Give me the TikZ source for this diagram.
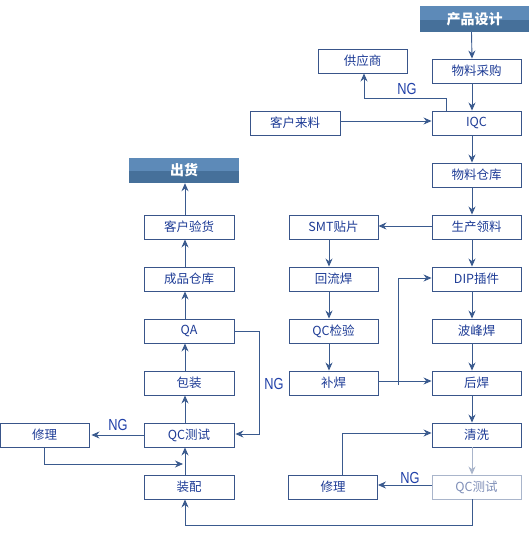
\documentclass[tikz,border=0pt]{standalone}
\usepackage{fontspec}
\newfontfamily\cjk{Noto Sans CJK SC}
\newfontfamily\ngfont[FakeStretch=0.8]{Liberation Sans}
\usetikzlibrary{arrows.meta,calc}
\definecolor{bordc}{HTML}{39558A}
\definecolor{txtc}{HTML}{1E3C96}
\definecolor{linec}{HTML}{3A5A8E}
\definecolor{ngc}{HTML}{2040A8}
\definecolor{hdtop}{HTML}{5D8AB8}
\definecolor{hdbot}{HTML}{46709A}
\definecolor{fadeb}{HTML}{A9B5CB}
\definecolor{fadet}{HTML}{7F8FB8}
\tikzset{
  box/.style={draw=bordc, line width=0.9pt, fill=white, minimum width=89pt, minimum height=24pt, inner sep=0pt, text=txtc, font=\cjk\fontsize{12.5}{14}\selectfont},
  fadebox/.style={box, draw=fadeb, text=fadet},
  hdr/.style={minimum height=26pt, inner sep=0pt, text=white, font=\cjk\bfseries\fontsize{14}{16}\selectfont},
  arr/.style={draw=linec, line width=0.9pt, -{Stealth[length=8pt,width=7pt]}},
  ln/.style={draw=linec, line width=0.9pt},
  ngl/.style={text=ngc, font=\ngfont\fontsize{16}{17}\selectfont, inner sep=0pt}
}
\begin{document}
\begin{tikzpicture}[x=1pt,y=-1pt]
\useasboundingbox (0,0) rectangle (532,539);
\fill[white] (0,0) rectangle (532,539);
% headers
\fill[hdtop] (420,6) rectangle (529,20);
\fill[hdbot] (420,20) rectangle (529,32);
\node[hdr, minimum width=109pt] (design) at (474.5,19) {产品设计};
\fill[hdtop] (129,158) rectangle (239,171);
\fill[hdbot] (129,171) rectangle (239,183);
\node[hdr, minimum width=110pt, minimum height=25pt] (ship) at (184,170.5) {出货};
% right column
\node[box] (buy) at (476.5,71) {物料采购};
\node[box] (iqc) at (476.5,123) {IQC};
\node[box] (store) at (476.5,175) {物料仓库};
\node[box] (pick) at (476.5,227) {生产领料};
\node[box] (dip) at (476.5,279) {DIP插件};
\node[box] (wave) at (476.5,331) {波峰焊};
\node[box] (post) at (476.5,383) {后焊};
\node[box] (clean) at (476.5,435) {清洗};
\node[fadebox] (qcr) at (476.5,487) {QC测试};
% others top
\node[box] (supp) at (362.5,61) {供应商};
\node[box, minimum width=90pt] (cust) at (295,123) {客户来料};
% middle column
\node[box] (smt) at (333.5,227) {SMT贴片};
\node[box] (reflow) at (333.5,279) {回流焊};
\node[box] (qcc) at (333.5,331) {QC检验};
\node[box] (touch) at (333.5,383) {补焊};
\node[box] (repr) at (333,487) {修理};
% left column
\node[box, minimum width=90pt] (accept) at (189,227) {客户验货};
\node[box, minimum width=90pt] (fgood) at (189,279) {成品仓库};
\node[box, minimum width=90pt] (qa) at (189,331) {QA};
\node[box, minimum width=90pt] (pack) at (189,383) {包装};
\node[box, minimum width=90pt] (qcl) at (189,435) {QC测试};
\node[box, minimum width=90pt] (asm) at (189,487) {装配};
\node[box] (repl) at (44.5,435) {修理};
% right column arrows
\draw[arr] ([xshift=-3pt]design.south) -- ([xshift=-4.5pt]buy.north);
\foreach \a/\b in {buy/iqc, iqc/store, store/pick, pick/dip, dip/wave, wave/post, post/clean}
  \draw[arr] ([xshift=-4.5pt]\a.south) -- ([xshift=-4.5pt]\b.north);
\draw[draw=fadeb, line width=0.9pt, -{Stealth[length=8pt,width=7pt]}] ([xshift=-4.5pt]clean.south) -- ([xshift=-4.5pt]qcr.north);
% IQC NG to supplier
\coordinate (ng1) at (446.5,98);
\draw[arr] ([xshift=-30pt]iqc.north) |- (ng1) -| ([xshift=1.5pt]supp.south);
\node[ngl] (ngA) at (407,89) {NG};
% customer material
\draw[arr] ([yshift=2pt]cust.east) -- ([yshift=2pt]iqc.west);
% pick -> smt
\draw[arr] ([yshift=1pt]pick.west) -- ([yshift=1pt]smt.east);
% middle arrows
\foreach \a/\b in {smt/reflow, reflow/qcc, qcc/touch}
  \draw[arr] ([xshift=-4.5pt]\a.south) -- ([xshift=-4.5pt]\b.north);
% touch -> post, branch to dip
\coordinate (br) at (398,385);
\draw[arr] ([yshift=2pt]touch.east) -- ([yshift=2pt]post.west);
\draw[arr] (br) |- ([yshift=1pt]dip.west);
% QC right NG -> repair
\draw[arr] ([yshift=2pt]qcr.west) -- ([yshift=2pt]repr.east);
\node[ngl] (ngD) at (410,478) {NG};
\draw[arr] ([xshift=9pt]repr.north) |- ([yshift=2pt]clean.west);
% bottom loop to assembly
\coordinate (bl) at (472,525);
\draw[arr] ([xshift=-4.5pt]qcr.south) |- (bl) -| ([xshift=-4pt]asm.south);
% left column arrows (upward)
\foreach \a/\b in {asm/qcl, qcl/pack, pack/qa, qa/fgood, fgood/accept}
  \draw[arr] ([xshift=-4pt]\a.north) -- ([xshift=-4pt]\b.south);
\draw[arr] ([xshift=-4pt]accept.north) -- ([xshift=1pt]ship.south);
% QA NG -> QC left
\coordinate (qan) at (259,331);
\draw[arr] (qa.east) -- (qan) |- ([yshift=1pt,xshift=1pt]qcl.east);
\node[ngl] (ngC) at (274,384) {NG};
% QC left NG -> repair left
\draw[arr] (qcl.west) -- ([xshift=2pt]repl.east);
\node[ngl] (ngB) at (118,425) {NG};
\coordinate (rl) at (183,464);
\draw[arr] (repl.south) |- (rl);
\end{tikzpicture}
\end{document}
